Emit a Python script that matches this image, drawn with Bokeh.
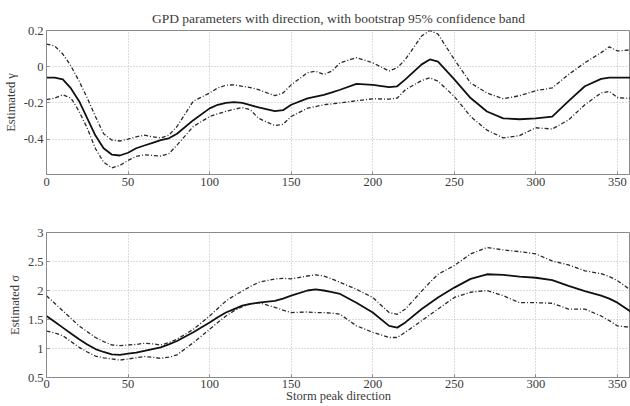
from bokeh.plotting import figure
from bokeh.layouts import column
from bokeh.models import FixedTicker, Range1d
from bokeh.embed import file_html
from bokeh.resources import INLINE

# ---- data ----
direction = [0, 5, 10, 15, 20, 25, 30, 35, 40, 45, 50, 55, 60, 65, 70, 75, 80, 90, 100, 105, 110, 115, 120, 125, 130, 140,
             145, 150, 160, 165, 170, 175, 180, 190, 200, 210, 215, 220, 230, 235, 240, 250, 260, 270, 280, 290, 300,
             310, 320, 330, 340, 345, 350, 360]

gamma_mean = [-0.06, -0.06, -0.07, -0.12, -0.19, -0.285, -0.38, -0.45, -0.485, -0.49, -0.475, -0.45, -0.435, -0.42,
              -0.405, -0.395, -0.37, -0.295, -0.23, -0.21, -0.2, -0.195, -0.2, -0.212, -0.225, -0.245, -0.24, -0.21,
              -0.175, -0.165, -0.155, -0.142, -0.127, -0.095, -0.1, -0.113, -0.108, -0.07, 0.013, 0.04, 0.028, -0.07,
              -0.173, -0.247, -0.285, -0.29, -0.285, -0.275, -0.19, -0.108, -0.067, -0.06, -0.06, -0.06]
gamma_upper = [0.125, 0.115, 0.07, 0.004, -0.08, -0.173, -0.275, -0.37, -0.405, -0.41, -0.4, -0.387, -0.378, -0.387,
               -0.393, -0.378, -0.33, -0.19, -0.145, -0.117, -0.102, -0.1, -0.108, -0.115, -0.127, -0.16, -0.145, -0.1,
               -0.033, -0.025, -0.043, -0.024, 0.022, 0.05, 0.022, -0.024, -0.006, 0.04, 0.17, 0.2, 0.18, 0.04, -0.09,
               -0.145, -0.177, -0.16, -0.132, -0.117, -0.043, 0.022, 0.078, 0.11, 0.087, 0.095]
gamma_lower = [-0.182, -0.173, -0.155, -0.173, -0.247, -0.34, -0.452, -0.527, -0.558, -0.545, -0.517, -0.495, -0.486,
               -0.49, -0.493, -0.48, -0.433, -0.33, -0.275, -0.26, -0.247, -0.235, -0.225, -0.238, -0.285, -0.325,
               -0.318, -0.275, -0.229, -0.22, -0.21, -0.205, -0.2, -0.188, -0.177, -0.179, -0.173, -0.127, -0.076,
               -0.061, -0.08, -0.164, -0.275, -0.35, -0.393, -0.38, -0.337, -0.344, -0.294, -0.21, -0.145, -0.136,
               -0.17, -0.177]

sigma_mean = [1.56, 1.46, 1.36, 1.26, 1.16, 1.07, 0.99, 0.94, 0.90, 0.89, 0.91, 0.93, 0.96, 0.99, 1.02, 1.07, 1.13,
              1.28, 1.45, 1.54, 1.62, 1.68, 1.74, 1.77, 1.79, 1.82, 1.86, 1.91, 2.0, 2.02, 2.0, 1.97, 1.94, 1.79, 1.62,
              1.39, 1.36, 1.45, 1.68, 1.78, 1.88, 2.05, 2.2, 2.28, 2.27, 2.24, 2.22, 2.18, 2.08, 1.99, 1.91, 1.86,
              1.79, 1.6]
sigma_upper = [1.91, 1.78, 1.65, 1.52, 1.39, 1.29, 1.19, 1.12, 1.06, 1.05, 1.06, 1.07, 1.09, 1.08, 1.06, 1.1, 1.16,
               1.33, 1.56, 1.69, 1.82, 1.91, 1.99, 2.07, 2.14, 2.2, 2.21, 2.2, 2.25, 2.27, 2.25, 2.2, 2.14, 2.02, 1.88,
               1.62, 1.59, 1.68, 1.99, 2.14, 2.28, 2.43, 2.63, 2.74, 2.7, 2.67, 2.63, 2.51, 2.44, 2.34, 2.29, 2.24,
               2.17, 1.97]
sigma_lower = [1.30, 1.27, 1.22, 1.12, 1.02, 0.94, 0.87, 0.84, 0.82, 0.80, 0.82, 0.84, 0.86, 0.85, 0.83, 0.85, 0.89,
               1.10, 1.33, 1.45, 1.56, 1.65, 1.72, 1.77, 1.79, 1.71, 1.66, 1.62, 1.63, 1.62, 1.62, 1.61, 1.59, 1.39,
               1.28, 1.19, 1.19, 1.28, 1.48, 1.58, 1.68, 1.88, 1.97, 2.0, 1.91, 1.79, 1.79, 1.78, 1.68, 1.68, 1.56,
               1.48, 1.39, 1.36]

x_ticks = [0, 50, 100, 150, 200, 250, 300, 350]
gamma_ticks = [-0.4, -0.2, 0, 0.2]
gamma_labels = {-0.4: "-0.4", -0.2: "-0.2", 0: "0", 0.2: "0.2"}
sigma_ticks = [0.5, 1, 1.5, 2, 2.5, 3]
sigma_labels = {0.5: "0.5", 1: "1", 1.5: "1.5", 2: "2", 2.5: "2.5", 3: "3"}

title_text = "GPD parameters with direction, with bootstrap 95% confidence band"
FONT = "Liberation Serif"
TEXT_COLOR = "#3a3a3a"


def style(p, yticks, ylabels):
    p.xaxis.ticker = FixedTicker(ticks=x_ticks)
    p.yaxis.ticker = FixedTicker(ticks=yticks)
    p.yaxis.major_label_overrides = ylabels
    for ax in (p.xaxis[0], p.yaxis[0]):
        ax.axis_line_color = "#8a8a8a"
        ax.major_tick_out = 0
        ax.major_tick_in = 3
        ax.major_tick_line_color = "#8a8a8a"
        ax.minor_tick_line_color = None
        ax.major_label_text_font = FONT
        ax.major_label_text_font_size = "12.5px"
        ax.major_label_text_color = TEXT_COLOR
        ax.axis_label_text_font = FONT
        ax.axis_label_text_font_size = "12.5px"
        ax.axis_label_text_font_style = "normal"
        ax.axis_label_text_color = TEXT_COLOR
        ax.major_label_standoff = 3
        ax.axis_label_standoff = 3
    p.xgrid.grid_line_color = "#b8b8b8"
    p.ygrid.grid_line_color = "#b8b8b8"
    p.xgrid.grid_line_dash = "1 2"
    p.ygrid.grid_line_dash = "1 2"
    p.outline_line_color = "#8a8a8a"
    p.outline_line_width = 1
    p.background_fill_color = "white"
    p.border_fill_color = "white"


def curves(p, mean, upper, lower):
    p.line(direction, upper, line_color="#2a2a2a", line_width=1.3, line_dash="4 2 1 2")
    p.line(direction, lower, line_color="#2a2a2a", line_width=1.3, line_dash="4 2 1 2")
    p.line(direction, mean, line_color="#111111", line_width=1.8)


p1 = figure(width=630, height=194, output_backend="svg", toolbar_location=None,
            x_range=Range1d(0, 358), y_range=Range1d(-0.595, 0.2),
            min_border_left=45, min_border_right=0, min_border_top=30, min_border_bottom=20,
            title=title_text)
p1.title.align = "center"
p1.title.text_font = FONT
p1.title.text_font_size = "13.5px"
p1.title.text_font_style = "normal"
p1.title.text_color = TEXT_COLOR
style(p1, gamma_ticks, gamma_labels)
p1.yaxis.axis_label = "Estimated γ"
curves(p1, gamma_mean, gamma_upper, gamma_lower)

p2 = figure(width=630, height=212, output_backend="svg", toolbar_location=None,
            x_range=p1.x_range, y_range=Range1d(0.5, 3),
            min_border_left=45, min_border_right=0, min_border_top=38, min_border_bottom=29)
style(p2, sigma_ticks, sigma_labels)
p2.xaxis.axis_label_standoff = -2
p2.xaxis.major_label_standoff = 2
p2.yaxis.axis_label = "Estimated σ"
p2.xaxis.axis_label = "Storm peak direction"
curves(p2, sigma_mean, sigma_upper, sigma_lower)

layout = column(p1, p2, spacing=0)
open("out.html", "w").write(file_html(layout, INLINE))
